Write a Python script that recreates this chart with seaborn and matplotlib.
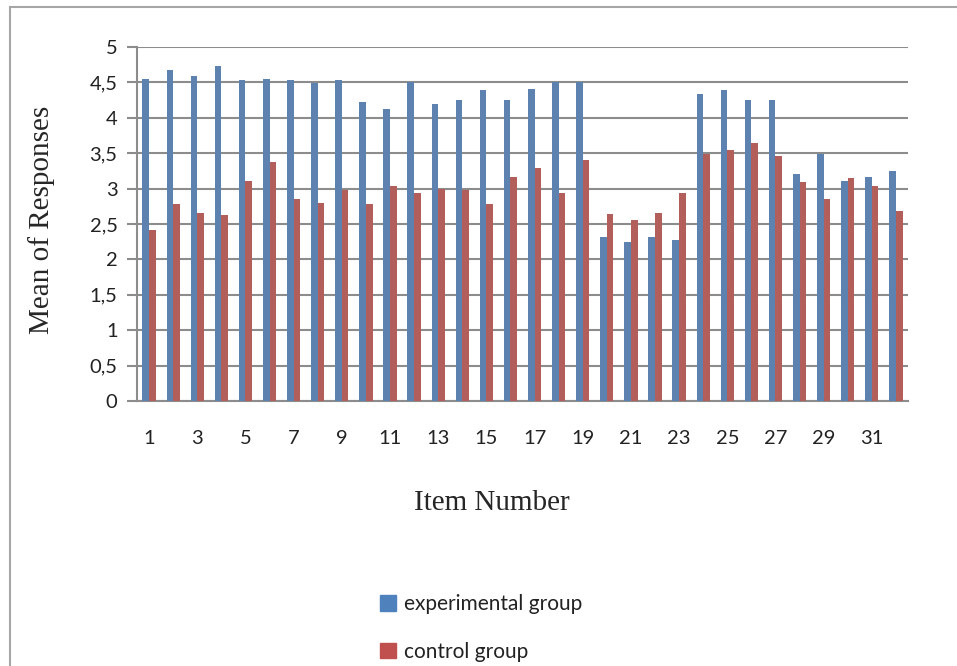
import pandas as pd
import numpy as np
import matplotlib.pyplot as plt
import seaborn as sns
from matplotlib.lines import Line2D

# mean responses, items 1..32
items = [str(i) for i in range(1, 33)]
experimental = [4.55, 4.67, 4.59, 4.73, 4.53, 4.55, 4.53, 4.49, 4.53, 4.22,
                4.13, 4.50, 4.19, 4.25, 4.39, 4.25, 4.41, 4.50, 4.50, 2.32,
                2.24, 2.32, 2.27, 4.33, 4.39, 4.25, 4.25, 3.20, 3.49, 3.11,
                3.17, 3.25]
control = [2.41, 2.78, 2.66, 2.63, 3.11, 3.37, 2.86, 2.80, 2.98, 2.78,
           3.03, 2.94, 3.00, 2.98, 2.78, 3.17, 3.29, 2.94, 3.40, 2.64,
           2.55, 2.66, 2.94, 3.49, 3.54, 3.65, 3.46, 3.09, 2.86, 3.15,
           3.03, 2.69]
groups = ['experimental group', 'control group']
colors = ['#4F81BD', '#C0504D']
y_ticks = [0, 0.5, 1, 1.5, 2, 2.5, 3, 3.5, 4, 4.5, 5]
y_tick_labels = ['0', '0,5', '1', '1,5', '2', '2,5', '3', '3,5', '4', '4,5', '5']

df = pd.DataFrame({
    'item': items * 2,
    'group': [groups[0]] * len(items) + [groups[1]] * len(items),
    'mean': experimental + control,
})

sns.set_style('white')
plt.rcParams['font.family'] = ['Lato', 'DejaVu Sans']

W, H = 957, 666
fig = plt.figure(figsize=(W / 100, H / 100), dpi=100)
ax = fig.add_axes([137 / W, 1 - 401 / H, (908 - 137) / W, (401 - 47) / H])

sns.barplot(data=df, x='item', y='mean', hue='group', order=items,
            hue_order=groups, palette=colors, width=0.55, gap=0,
            linewidth=0, ax=ax, legend=False, zorder=3)

ax.set_ylim(0, 5)
ax.set_xlim(-0.5, len(items) - 0.5)
ax.set_yticks(y_ticks)
ax.set_yticklabels(y_tick_labels)
ax.set_xticks(range(0, len(items), 2))
ax.set_xticklabels(items[::2])
ax.set_xlabel('')
ax.set_ylabel('')

grid_c = '#8c8c8c'
ax.yaxis.grid(True, color=grid_c, linewidth=1.5, zorder=0)
ax.set_axisbelow(True)
for s in ['top', 'right']:
    ax.spines[s].set_visible(False)
for s in ['left', 'bottom']:
    ax.spines[s].set_color(grid_c)
    ax.spines[s].set_linewidth(1.5)
ax.tick_params(axis='y', length=7, width=1.5, color=grid_c, pad=7,
               labelsize=14.5, labelcolor='#222222', left=True)
ax.tick_params(axis='x', length=0, pad=21, labelsize=14.5, labelcolor='#222222')

fig.text(42 / W, 1 - 220 / H, 'Mean of Responses', rotation=90,
         ha='center', va='center', fontsize=21, family='Liberation Serif')
fig.text(492 / W, 1 - 503 / H, 'Item Number', ha='center', va='center',
         fontsize=21, family='Liberation Serif')

# legend
handles = [plt.Rectangle((0, 0), 1, 1, color=c) for c in colors]
fig.legend(handles, groups, loc='center left',
           bbox_to_anchor=(380 / W, 1 - 628 / H), frameon=False,
           fontsize=15, handlelength=0.75, handleheight=0.75,
           handletextpad=0.4, labelspacing=1.32, borderpad=0, borderaxespad=0,
           labelcolor='#222222')

# chart area border
fig.add_artist(Line2D([10 / W, 1], [1 - 7 / H, 1 - 7 / H], color='#a6a6a6',
                      linewidth=1.5, transform=fig.transFigure))
fig.add_artist(Line2D([10 / W, 10 / W], [1 - 7 / H, 0], color='#a6a6a6',
                      linewidth=1.5, transform=fig.transFigure))

fig.savefig('out.png', dpi=100)
